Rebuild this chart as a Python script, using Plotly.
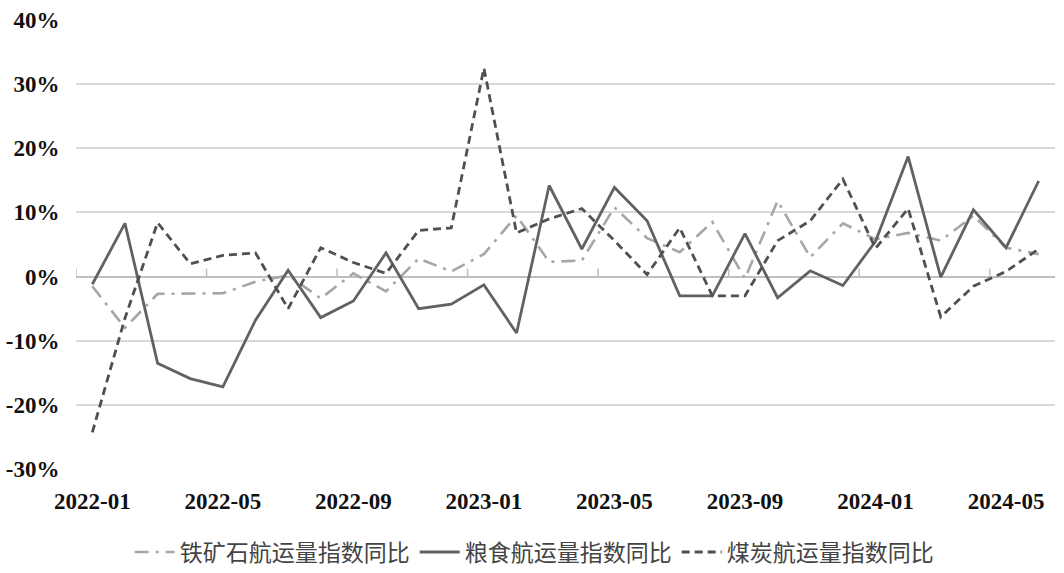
import plotly.graph_objects as go

months = [f"{y}-{m:02d}" for y, m in
          [(2022, m) for m in range(1, 13)] + [(2023, m) for m in range(1, 13)] + [(2024, m) for m in range(1, 7)]]

iron_ore = [-1.5, -8.0, -2.7, -2.6, -2.6, -0.8, 0.2, -3.4, 0.5, -2.3,
            2.8, 0.8, 3.5, 9.5, 2.3, 2.5, 10.8, 6.0, 3.8, 8.5,
            -0.3, 11.8, 3.0, 8.3, 5.8, 6.8, 5.6, 9.5, 4.5, 3.5]
grain = [-1.2, 8.3, -13.5, -15.9, -17.2, -6.8, 1.0, -6.4, -3.8, 3.7,
         -5.0, -4.3, -1.3, -8.8, 14.2, 4.3, 13.9, 8.7, -3.0, -3.0,
         6.7, -3.3, 0.9, -1.4, 5.5, 18.7, -0.1, 10.4, 4.5, 14.9]
coal = [-24.3, -6.5, 8.4, 2.0, 3.3, 3.7, -5.0, 4.5, 2.2, 0.5,
        7.2, 7.6, 32.5, 6.8, 9.0, 10.6, 5.6, 0.3, 7.6, -3.0,
        -3.0, 5.6, 8.7, 15.2, 4.4, 10.6, -6.3, -1.5, 0.8, 4.3]

names = ["铁矿石航运量指数同比", "粮食航运量指数同比", "煤炭航运量指数同比"]
y_ticks = [-30, -20, -10, 0, 10, 20, 30, 40]
x_tick_labels = months[::4]

SERIF = "Liberation Serif"
tick_font = dict(family=SERIF, size=23, color="#111", weight="bold")

fig = go.Figure()
fig.add_trace(go.Scatter(x=months, y=iron_ore, name=names[0], mode="lines",
                         line=dict(color="#a6a6a6", width=2.6, dash="14px,7px,3px,7px")))
fig.add_trace(go.Scatter(x=months, y=grain, name=names[1], mode="lines",
                         line=dict(color="#626262", width=2.8)))
fig.add_trace(go.Scatter(x=months, y=coal, name=names[2], mode="lines",
                         line=dict(color="#505050", width=2.8, dash="8px,5px")))

# category-boundary tick marks on the 0% axis line
for i in range(0, len(months) + 1, 4):
    fig.add_shape(type="line", xref="x", yref="y", x0=i - 0.5, x1=i - 0.5,
                  ysizemode="pixel", yanchor=0, y0=0, y1=8,
                  line=dict(color="#bfbfbf", width=1.5), layer="below")

fig.update_layout(
    width=1064, height=573,
    margin=dict(l=76, r=9, t=20, b=104, autoexpand=False),
    paper_bgcolor="white", plot_bgcolor="white",
    font=dict(family=SERIF, size=18, color="#000"),
    showlegend=True,
    legend=dict(orientation="h", x=0.468, xanchor="center", y=-0.185, yanchor="middle",
                font=dict(family="Noto Sans CJK SC", size=23, color="#444"),
                itemwidth=40, tracegroupgap=0),
    xaxis=dict(type="category", range=[-0.5, len(months) - 0.5], automargin=False,
               tickmode="array", tickvals=x_tick_labels, ticktext=x_tick_labels,
               showgrid=False, zeroline=False, showline=False,
               ticks="outside", ticklen=11, tickcolor="rgba(0,0,0,0)",
               tickfont=tick_font),
    yaxis=dict(range=[-30, 40], automargin=False, tickmode="array", tickvals=y_ticks,
               ticktext=[f"{v}%" for v in y_ticks],
               showgrid=True, gridcolor="#d9d9d9", gridwidth=1.5,
               zeroline=True, zerolinecolor="#bfbfbf", zerolinewidth=1.5,
               showline=False, ticks="outside", ticklen=11, tickcolor="rgba(0,0,0,0)",
               tickfont=tick_font),
)

fig.write_html("out.html")
